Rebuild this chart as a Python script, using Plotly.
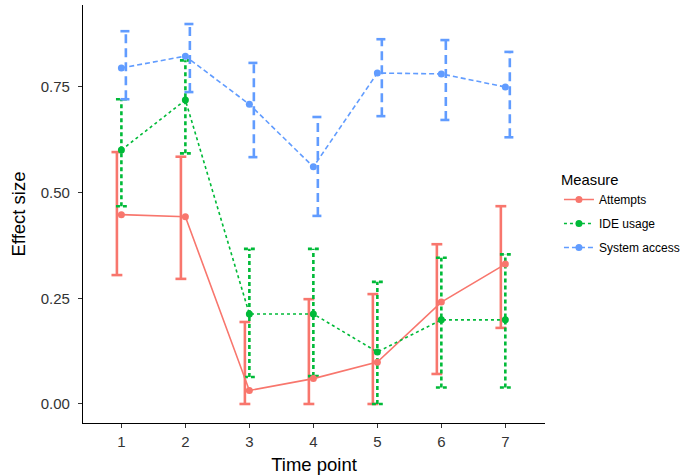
import plotly.graph_objects as go

time_points = [1, 2, 3, 4, 5, 6, 7]
measures = ["Attempts", "IDE usage", "System access"]

attempts_est = [0.448, 0.443, 0.032, 0.060, 0.099, 0.241, 0.331]
attempts_lo = [0.305, 0.296, 0.0, 0.0, 0.0, 0.071, 0.180]
attempts_hi = [0.596, 0.585, 0.194, 0.248, 0.260, 0.378, 0.468]

ide_est = [0.601, 0.719, 0.213, 0.213, 0.123, 0.199, 0.199]
ide_lo = [0.468, 0.593, 0.064, 0.066, 0.0, 0.039, 0.039]
ide_hi = [0.721, 0.813, 0.367, 0.367, 0.289, 0.346, 0.354]

sys_est = [0.795, 0.823, 0.709, 0.561, 0.783, 0.781, 0.750]
sys_lo = [0.721, 0.738, 0.584, 0.445, 0.681, 0.672, 0.631]
sys_hi = [0.882, 0.899, 0.807, 0.679, 0.863, 0.861, 0.833]

colors = ["#F8766D", "#00BA38", "#619CFF"]
line_dash = ["solid", "3px,3px", "5px,3px"]
bar_dash = ["solid", "4px,3px", "9px,5px"]
dodge = [-0.07, 0.0, 0.07]
cap_half = 0.085

series = [
    (attempts_est, attempts_lo, attempts_hi),
    (ide_est, ide_lo, ide_hi),
    (sys_est, sys_lo, sys_hi),
]

fig = go.Figure()

for i, (est, lo, hi) in enumerate(series):
    ex, ey = [], []
    for t, l, h in zip(time_points, lo, hi):
        c = t + dodge[i]
        ex += [c, c, None, c - cap_half, c + cap_half, None, c - cap_half, c + cap_half, None]
        ey += [l, h, None, h, h, None, l, l, None]
    fig.add_trace(go.Scatter(
        x=ex, y=ey, mode="lines", showlegend=False, hoverinfo="skip",
        line=dict(color=colors[i], width=2.6, dash=bar_dash[i]),
    ))

for i, (est, lo, hi) in enumerate(series):
    fig.add_trace(go.Scatter(
        x=time_points, y=est, mode="lines+markers", name=measures[i],
        legendgroup=measures[i],
        line=dict(color=colors[i], width=1.6, dash=line_dash[i]),
        marker=dict(color=colors[i], size=7),
    ))

fig.update_layout(
    width=685, height=476,
    margin=dict(l=83, r=140, t=5, b=53, autoexpand=False),
    plot_bgcolor="white", paper_bgcolor="white",
    font=dict(family="Liberation Sans, Arial, sans-serif", color="#000000"),
    legend=dict(
        title=dict(text="Measure", font=dict(size=14.8, color="#000")),
        font=dict(size=12, color="#000"),
        xref="container", yref="container",
        x=0.816, xanchor="left", y=0.55, yanchor="middle",
        tracegroupgap=5, itemwidth=30,
    ),
    xaxis=dict(
        range=[0.4, 7.62], tickvals=time_points, ticktext=[str(t) for t in time_points],
        showgrid=False, zeroline=False, showline=True, linecolor="black", linewidth=1.3,
        ticks="outside", ticklen=4, tickcolor="#333", tickfont=dict(size=15, color="#333"),
        ticklabelstandoff=1,
        title=dict(text="Time point", font=dict(size=18.5, color="#000"), standoff=8),
        automargin=False,
    ),
    yaxis=dict(
        range=[-0.045, 0.944], tickvals=[0, 0.25, 0.5, 0.75], tickformat=".2f",
        showgrid=False, zeroline=False, showline=True, linecolor="black", linewidth=1.3,
        ticks="outside", ticklen=4, tickcolor="#333", tickfont=dict(size=15, color="#333"),
        ticklabelstandoff=5,
        title=dict(text="Effect size", font=dict(size=18.5, color="#000"), standoff=10),
        automargin=False,
    ),
)

fig.write_html("out.html", config={"displayModeBar": False},
               post_script="document.body.style.margin='0px';")
